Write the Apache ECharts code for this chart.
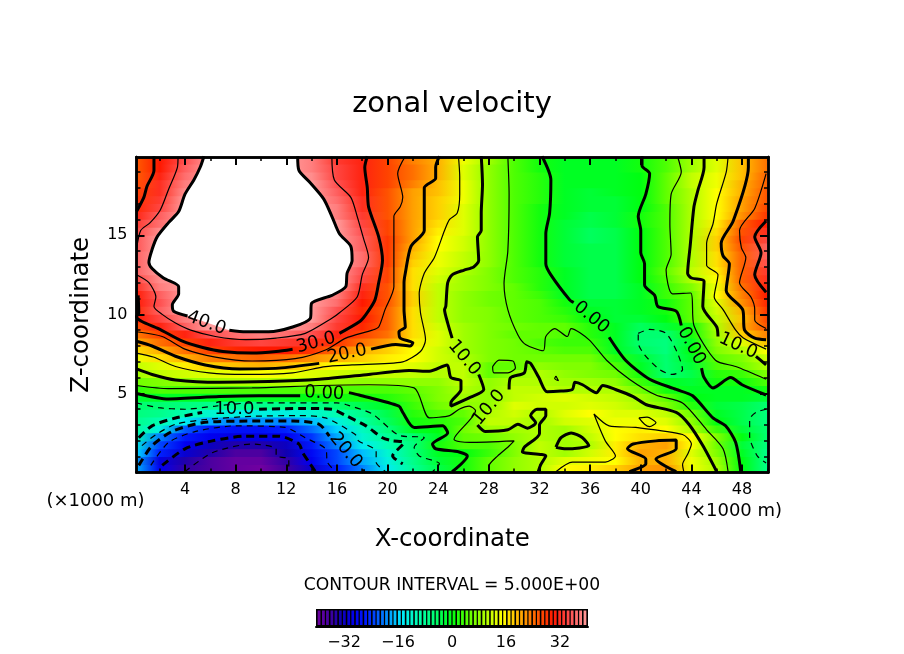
<!DOCTYPE html>
<html><head><meta charset="utf-8">
<style>html,body{margin:0;padding:0;background:#fff}#c{width:904px;height:654px}</style>
<script src="https://cdn.jsdelivr.net/npm/echarts@6/dist/echarts.min.js"></script>
</head><body><div id="c"></div>
<script>
const xCols=[0,2,4,6,8,10,12,14,16,18,20,22,24,26,28,30,32,34,36,38,40,42,44,46,48,50];
const zRows=[.25,.75,1.25,1.75,2.25,2.75,3.25,3.75,4.25,4.75,5.25,5.75,6.25,6.75,7.25,7.75,8.25,8.75,9.25,9.75,10.25,10.75,11.25,11.75,12.25,12.75,13.25,13.75,14.25,14.75,15.25,15.75,16.25,16.75,17.25,17.75,18.25,18.75,19.25,19.75];
const fieldRows=[
[-17,-29,-35,-37,-39,-40,-36,-31,-25,-20,-14,-8,-3,1,5,8,10,15,16,18,21,22,14,10,0,-7],
[-18,-30,-34,-37,-39,-39,-35,-29,-23,-18,-13,-7,-2,1,5,8,10,13,14,15,20,20,14,9,0,-7],
[-15,-25,-31,-34,-37,-37,-33,-28,-23,-17,-12,-6,-1,0,3,7,11,9,12,16,21,20,13,7,-1,-7],
[-13,-23,-29,-32,-34,-34,-32,-26,-20,-14,-10,-6,1,4,4,7,11,9,10,16,20,21,15,6,-2,-6],
[-10,-20,-26,-29,-30,-30,-29,-24,-18,-12,-8,-5,-1,5,6,8,10,9,11,15,17,18,15,7,0,-5],
[-8,-13,-22,-26,-27,-27,-25,-21,-16,-11,-6,-1,0,6,9,9,10,9,12,15,16,15,10,3,-2,-5],
[-7,-10,-14,-18,-20,-19,-20,-17,-13,-9,-4,1,2,4,11,11,9,12,13,14,14,13,8,0,-3,-6],
[-6,-7,-10,-12,-13,-13,-13,-12,-10,-7,-3,2,4,5,10,12,10,13,15,13,13,11,6,-1,-3,-6],
[-5,-5,-6,-7,-8,-7,-7,-7,-5,-3,-1,3,6,8,8,13,12,12,13,12,10,7,2,-2,-3,-5],
[-2,-1,-1,-1,-1,-1,-1,0,1,1,2,4,7,9,8,11,12,13,12,11,9,5,0,-1,-1,-2],
[2,4,4,4,4,4,4,4,4,4,4,5,7,10,8,11,11,10,10,10,6,1,-1,-1,-1,1],
[6,7,8,9,10,10,10,9,9,8,8,8,8,11,8,10,10,9,9,8,3,-1,-2,1,1,4],
[9,11,12,13,14,15,14,13,12,11,11,11,10,11,5,8,10,8,7,6,1,-5,-3,2,3,7],
[11,13,16,18,19,20,19,17,15,14,14,13,11,11,5,5,8,7,7,4,-1,-5,-2,4,6,10],
[14,17,20,23,24,25,24,22,20,18,16,15,12,10,7,6,6,6,6,2,-2,-5,-1,5,7,12],
[17,20,24,27,29,30,30,28,24,20,18,15,12,9,7,6,5,4,4,-1,-4,-6,0,7,10,15],
[20,24,27,31,33,34,33,32,28,24,21,16,13,9,7,6,4,3,3,-1,-5,-6,-1,8,13,19],
[23,27,31,35,37,38,37,35,31,27,24,17,13,9,7,5,5,4,2,-1,-5,-5,1,9,18,23],
[26,31,36,40,42,42,41,38,33,29,25,17,12,9,7,6,5,5,2,-1,-4,-2,1,10,20,26],
[30,34,38,43,45,45,45,41,34,30,25,17,11,8,7,5,4,3,0,-2,-2,0,5,11,19,27],
[29,36,42,45,45,45,45,40,35,29,25,17,11,8,7,5,4,2,-1,-2,-1,1,5,12,20,28],
[30,35,45,45,45,45,45,41,37,30,26,18,11,8,6,5,4,1,-2,-2,-1,1,5,13,22,29],
[30,36,43,45,45,45,45,43,38,31,26,18,11,8,6,5,3,-1,-3,-3,-1,3,5,15,23,30],
[32,38,43,45,45,45,45,45,40,32,26,17,11,9,7,5,2,-1,-3,-3,-1,3,7,14,24,31],
[34,39,45,45,45,45,45,45,42,34,27,17,12,9,7,4,2,-1,-3,-3,0,4,10,15,25,32],
[36,42,45,45,45,45,45,45,42,35,27,17,13,10,7,4,2,-1,-3,-3,0,5,11,16,25,33],
[36,43,45,45,45,45,45,45,45,37,28,18,14,11,8,4,1,-2,-3,-3,0,4,10,17,25,35],
[36,44,45,45,45,45,45,45,45,37,28,19,14,11,8,4,1,-2,-3,-3,0,4,10,17,25,36],
[35,42,45,45,45,45,45,45,45,36,28,20,15,12,8,4,1,-2,-3,-3,0,4,10,18,26,36],
[35,40,45,45,45,45,45,45,44,36,28,21,15,12,8,4,1,-2,-4,-3,0,4,10,18,27,34],
[34,39,44,45,45,45,45,45,41,35,27,21,16,13,8,4,1,-2,-4,-3,0,4,10,17,26,32],
[33,37,43,45,45,45,45,45,40,34,27,21,17,13,8,4,1,-2,-3,-2,1,4,10,16,25,30],
[31,36,42,45,45,45,45,45,38,33,26,21,18,13,8,4,1,-1,-3,-2,1,4,10,15,22,28],
[29,34,41,45,45,45,45,44,38,32,26,21,18,13,8,4,1,-1,-2,-2,0,4,10,15,21,27],
[28,33,40,45,45,45,45,43,37,32,26,21,18,14,8,4,2,-1,-2,-2,0,5,10,15,21,26],
[27,32,39,45,45,45,45,41,36,31,26,21,19,14,8,4,2,-1,-2,-1,0,5,10,15,20,26],
[26,32,38,45,45,45,45,40,35,31,27,23,19,14,8,4,2,-1,-1,-1,0,5,11,14,20,25],
[25,31,37,45,45,45,45,39,34,31,27,24,20,13,8,4,2,-1,-1,-1,0,5,11,14,19,25],
[25,30,36,45,45,45,45,38,34,31,27,24,20,13,8,4,1,-1,-1,-1,1,4,9,13,19,24],
[25,30,35,41,45,45,45,38,33,31,27,23,20,14,9,4,1,-1,-1,-1,1,4,9,13,19,24]];

// contour polylines [x km, z km]
const c40a=[[5.5,20],[5.2,19.3],[4.7,18.5],[4,17.6],[3.5,16.5],[2.7,15.8],[1.8,14.9],[1.4,14.1],[1.15,13.3],[1.4,12.9],[2.3,12.3],[3.5,11.75],[3.5,11.3],[3,10.6],[3.1,10.2],[4.2,9.9]];
const c40b=[[7.5,9],[8.8,8.9],[10.6,8.9],[12.5,9.2],[13.9,9.75],[14,10.7],[15.6,11.2],[16.7,11.75],[16.8,12.6],[17.2,13.4],[17.1,14.3],[16.2,15.1],[15.6,16.2],[14.95,17.3],[13.8,18.4],[13,19.1],[12.9,20]];
const c35a=[[3.45,20],[3.4,19.3],[2.7,17.9],[2.05,16.6],[1.25,15.8],[.5,15.3],[.17,14.1]];
const c35b=[[.17,12.5],[1.15,12],[1.7,11.1],[1.55,10.5],[2.2,10],[3.25,9.45],[4.45,9],[6.4,8.6],[8.8,8.4],[11.2,8.5],[13.5,8.8],[15.6,9.75],[16.2,10.1],[17.6,11.1],[18,12.5],[18.5,13.6],[18.1,14.8],[17.6,16.2],[17.1,17.4],[15.8,18.5],[15.6,20]];
const c30a=[[1.55,20],[1.55,19.1],[1,18.1],[.75,17.4],[.17,16.5]];
const c30b=[[.3,11.2],[.35,10.1],[.17,9.85],[.6,9.55],[1.9,9.1],[3.8,8.3],[5.4,7.9],[7,7.65],[9.3,7.55],[11.2,7.65],[12.5,7.8]];
const c30c=[[16.2,8.8],[17.8,9.55],[18.3,10],[19,10.9],[19.3,12],[19.6,13.4],[19.3,14.9],[18.5,16.8],[18.4,18],[18.2,19.3],[18.4,20]];
const c30d=[[49.9,15.9],[49,14.9],[49.5,13.9],[49,12.5],[49.9,11.4]];
const c25a=[[.17,8.9],[2.2,8.6],[4,7.8],[6.4,7.3],[9.3,7.05],[12.7,7.2],[15.1,7.75],[16.7,8.5],[18.8,9],[19.3,9.2],[19.8,10.3],[20.5,11.75],[20.5,13.2],[20.5,16.2],[21,16.8],[21.2,17.4],[20.8,18.9],[21.4,20]];
const c25b=[[49.9,18.9],[49,16.7],[47.8,15.3],[47.95,14.2],[48.3,13.6],[47.8,12],[48.7,11.1],[49,10.3],[49,9.65],[49.9,9.1]];
const c20a=[[.17,8.3],[1.4,8],[3.25,7.35],[5.6,6.8],[8.3,6.55],[11.4,6.6],[14.6,6.9]];
const c20b=[[18.7,7.8],[20.65,8.1],[21.8,8],[22,8.2],[21,8.5],[20.9,8.9],[21.4,9.2],[21.3,10.3],[21.3,12],[21.4,12.6],[21.85,14.3],[22.9,15.3],[22.9,18],[23.8,18.6],[23.8,19.3],[24.1,20]];
const c20c=[[48.5,20],[48.5,19.3],[47.3,15.9],[46.35,14.5],[46.5,13.7],[47,13.2],[46.75,11.5],[48.05,10.3],[48.2,9],[49,8.5],[49.9,8.4]];
const c20d=[[39.1,.05],[40.4,.55],[40.4,.85],[38.95,1.5],[39.4,1.8],[41.2,2],[42.8,2.05],[42.8,1.5],[41.2,.85],[42.8,.05]];
const c15a=[[.17,7.55],[1.5,7.3],[3.25,6.7],[5.9,6.3],[8.8,6.2],[12.5,6.3],[15.1,6.7],[17.2,6.8],[21.2,7],[22.6,7.65],[23,8.4],[22.6,10.1],[22.5,11.3],[22.9,12.6],[23.7,13.6],[24.5,15.3],[24.9,16],[25.5,16.4],[25.7,17.6],[25.7,18.7],[25.6,20]];
const c15b=[[46.9,20],[46.75,19],[46,17],[45.7,15.7],[45.2,14.5],[45.2,13.1],[46.1,12.5],[45.8,11.1],[46.5,10.3],[47.5,9],[48.1,8.5],[49.9,7.8]];
const c15c=[[33.3,.05],[34.6,.65],[37.2,.65],[38,1.05],[37.2,2],[36.3,3.7],[37.5,2.95],[39.6,2.85],[43.3,2.4],[44,1.8],[43.7,1.15],[43.3,.5],[43.4,.05]];
const c15d=[[39.85,3.45],[40.5,3.5],[41.2,3.15],[40.7,2.9],[40.3,3.05],[39.85,3.45]];
const c10a=[[.17,6.55],[1.4,6.2],[3.25,5.85],[6.7,5.7],[10.6,5.75],[14.6,5.9],[18.5,6.2],[21.7,6.45],[23.3,6.4],[24.7,6.8],[25,6],[25.8,5.8],[25.8,5.25],[25,4.4],[25,4.2],[26.4,4.7],[27.6,5.25],[27.2,6.2]];
const c10b=[[25.1,8.5],[24.75,9.45],[24.5,10.3],[24.6,10.5],[24.75,12],[25.1,12.5],[26.05,12.8],[26.8,13],[27.2,13.4],[27.1,14.9],[27.4,15.3],[27.4,16.4],[27.5,18.2],[27.4,20]];
const c10c=[[31.9,.05],[32.1,.5],[32.5,1.05],[30.65,1.3],[30.8,1.6],[32,2.45],[32,3],[32.5,3.6],[32.5,4],[31.8,4],[31.3,3.6],[31.7,3.15],[31.05,2.8],[30.3,3.05],[29.5,2.7],[27.7,2.6],[27.1,3]];
const c10d=[[29.6,5.25],[29.7,5.98],[30.8,6.3],[31,7],[31.3,6.9],[31.95,6],[32.6,5.1],[33.7,5.15],[34.6,5.25],[34.8,5.7],[35.4,5.55],[36.5,5.05],[37,5.5],[38,5.25],[39.4,4.8],[40.4,4.3],[42.8,3.8],[43.8,3.05],[44.9,1.7],[46,.05]];
const c10e=[[33.3,1.6],[33.7,2.2],[34.5,2.5],[35.4,2.2],[35.9,1.7],[34.1,1.5],[33.3,1.6]];
const c10f=[[45,20],[45,19.3],[44.5,17.8],[44.2,16.8],[43.9,14.3],[43.7,12.6],[44,12.3],[45,12.1],[44.9,10.5],[46,9.2],[46.1,8.6]];
const c10g=[[49.1,7.35],[49.9,6.8]];
const c5a=[[.17,5.5],[2.7,5.3],[9.3,5.35],[14.6,5.5],[18.5,5.55],[22.1,5.35],[23.3,3.45],[24.9,3.6],[25.65,4],[26.45,4.2],[26.95,3.9],[25.25,2.1],[26.45,1.9],[30,2],[29.5,1.6],[28.7,1.05],[28,.4],[28,.05]];
const c5b=[[29.5,20],[29.6,17.6],[29.5,14],[29.2,11.95],[29.5,10.3],[30.3,8.7],[30.9,8.1],[32.3,7.7],[32.5,8.6],[33.2,9.1],[34.2,8.6],[34.5,9.1],[35.9,8.4],[37.3,7.1],[39.1,5.9],[41.2,4.9],[43.3,4.4],[45.2,2.7],[46.5,1.5],[46.9,.05]];
const c5c=[[28.3,6.7],[28.8,7.1],[29.9,7.05],[30.1,6.6],[29.5,6.3],[28.4,6.3],[28.3,6.7]];
const c5d=[[33.3,6.1],[33.5,5.8],[33.2,5.95],[33.3,6.1]];
const c5e=[[42.9,20],[43.2,19],[42.4,17.6],[42.3,15.7],[42.4,13.8],[42,12.8],[42.5,11.3],[43.95,11.35],[44.2,9.3],[45.9,7.1],[47.5,6.7],[49.9,5.9]];
const c0a=[[.17,5],[2.7,4.65],[6.7,4.8],[9.85,4.85],[13.1,4.85]];
const c0b=[[16.95,5.05],[17.75,4.9],[20.9,4.2],[21.2,3.8],[22.1,2.85],[24.35,2.95],[24.75,2.5],[23.55,1.8],[23.8,1.5],[25.65,1.3],[26.3,1.05],[25.1,.05]];
const c0c=[[32.2,20],[32.9,18.5],[32.8,16.4],[32.5,15.1],[32.5,13.2],[32.9,12.5],[34.4,10.9],[34.7,10.75]];
const c0d=[[37.5,8.55],[38.8,7.1],[40.7,5.9],[42.8,5.25],[44.1,4.85],[45.7,3.45],[46.7,2.95],[47.5,1.9],[47.9,.05]];
const c0e=[[40.1,20],[40.1,19.4],[40.7,18.9],[40.4,17.6],[39.8,16.2],[40,15.3],[40,13.9],[40.3,13.2],[40.3,11.85],[41.1,11.2],[41.35,10.5],[42.8,10.2],[43.2,9.3]];
const c0f=[[44.8,6.6],[45,6],[45.7,5.35],[47.1,6],[48,5.55],[49.9,4.9]];
const cm5a=[[.17,4.4],[1.9,4.1],[4,4],[6.4,4.2],[9.3,4.4],[13,4.4],[16,4.4],[16.7,4.3],[18.8,3.7],[20.9,2.35],[22.9,2.2],[22.1,1.6],[22.5,1.05],[24.1,.55],[23.55,.05]];
const cm5b=[[39.8,8.8],[40.7,9.05],[42,8.8],[42.9,7.55],[43.3,6.5],[42.5,6.2],[41.5,6.5],[40.3,7.45],[39.8,8.2],[39.8,8.8]];
const cm5c=[[49.9,4],[49.1,3.8],[48.6,3.35],[48.6,2.3],[49.2,1.05],[49.9,.6]];
const cm10a=[[.35,2.2],[1.4,2.95],[3.25,3.45],[5.35,3.8]];
const cm10b=[[9.85,4],[13,4.05],[15.6,4],[16.7,3.6],[18.3,2.95],[19.6,2.2],[20.4,2],[21.3,1.9],[20.4,1.05],[21.2,.55]];
const cm15=[[.6,1.7],[1.7,2.4],[3.25,3.05],[5.6,3.35],[9.3,3.55],[13,3.6],[15.1,3.45],[17.45,2.4],[17.7,2],[19.1,1.35],[19.1,.65],[19.85,.05]];
const cm20a=[[.35,.45],[1.4,1.7],[3,2.6],[5.35,3.15],[9.3,3.25],[12.5,3.25],[14.6,3.05],[15.4,2.3]];
const cm20b=[[18.1,.2],[18.1,.05]];
const cm25=[[1.3,.45],[2.7,1.9],[4.85,2.6],[8,2.95],[11.9,2.85],[13.5,2.2],[15.1,1.5],[15.25,.65],[15.9,.05]];
const cm30=[[2.2,.45],[4,1.5],[6.15,2],[8.8,2.3],[11.4,2.3],[13,1.8],[13.3,1.25],[13.8,.65],[14.3,.05]];
const cm35=[[4,.05],[6.15,1.25],[9.3,1.8],[11.2,1.5],[11.2,1.05],[12.2,.85],[12.2,.05]];

const heavyLines=[c40a,c40b,c30a,c30b,c30c,c30d,c20a,c20b,c20c,c20d,c10a,c10b,c10c,c10d,c10e,c10f,c10g,c0a,c0b,c0c,c0d,c0e,c0f];
const thinLines=[c35a,c35b,c25a,c25b,c15a,c15b,c15c,c15d,c5a,c5b,c5c,c5d,c5e];
const heavyDashed=[cm10a,cm10b,cm20a,cm20b,cm30];
const thinDashed=[cm5a,cm5b,cm5c,cm15,cm25,cm35];

const labelTexts=['40.0','30.0','20.0','10.0','0.00','20.0','10.0','10.0','0.00','0.00','10.0'];
const labelX=[5.7,14.35,16.8,7.9,15,16.7,26.05,28,36.1,44,47.7];
const labelZ=[9.45,8.2,7.5,4,5,1.4,7.25,4.1,9.8,8,8];
const labelRot=[-20,15,12,0,-3,-50,-50,50,-40,-62,-25];

const xMajor=[4,8,12,16,20,24,28,32,36,40,44,48];
const xMinor=[2,6,10,14,18,22,26,30,34,38,42,46,50];
const zMajor=[5,10,15];
const zMinor=[1,2,3,4,6,7,8,9,11,12,13,14,16,17,18,19];
const barTicks=[-32,-16,0,16,32];
const barLevels=[-39.4,-38.1,-36.9,-35.6,-34.4,-33.1,-31.9,-30.6,-29.4,-28.1,-26.9,-25.6,-24.4,-23.1,-21.9,-20.6,-19.4,-18.1,-16.9,-15.6,-14.4,-13.1,-11.9,-10.6,-9.4,-8.1,-6.9,-5.6,-4.4,-3.1,-1.9,-.6,.6,1.9,3.1,4.4,5.6,6.9,8.1,9.4,10.6,11.9,13.1,14.4,15.6,16.9,18.1,19.4,20.6,21.9,23.1,24.4,25.6,26.9,28.1,29.4,30.6,31.9,33.1,34.4,35.6,36.9,38.1,39.4];
const colorStops=[[-40,[112,0,160]],[-36,[64,0,160]],[-33,[16,0,176]],[-29,[0,0,240]],[-25,[0,32,255]],[-20,[0,128,255]],[-15,[0,232,255]],[-10,[0,255,176]],[-5,[0,255,112]],[0,[0,255,16]],[5,[96,255,0]],[10,[176,255,0]],[15,[255,255,0]],[20,[255,176,0]],[25,[255,96,0]],[30,[255,24,0]],[35,[255,80,80]],[40,[255,156,156]]];

function colorOf(v){
  v=Math.max(-40,Math.min(40,v));
  for(let i=1;i<colorStops.length;i++){
    if(v<=colorStops[i][0]){
      const a=colorStops[i-1],b=colorStops[i],t=(v-a[0])/(b[0]-a[0]);
      return 'rgb('+a[1].map((c,k)=>Math.round(c+(b[1][k]-c)*t)).join(',')+')';
    }
  }
  return 'rgb(255,156,156)';
}
const F='"DejaVu Sans"';
const X0=.17,X1=50.05,Z1=19.95;
const box=2.5;
function axisBase(type,pos,min,max,grid){return {type:'value',gridIndex:grid,position:pos,min,max,z:10,silent:true,scale:false,
  splitLine:{show:false},axisLine:{show:true,onZero:false,lineStyle:{color:'#000',width:box}}};}
function mk(type,pos,min,max,ticks,len,label){
  const a=axisBase(type,pos,min,max,0);
  a.axisTick={show:true,inside:true,length:len,lineStyle:{color:'#000',width:len>5?2:1.5},customValues:ticks};
  a.axisLabel=label?{show:true,customValues:ticks,color:'#000',fontFamily:F,fontSize:16,margin:9}:{show:false};
  return a;
}
const xAxes=[mk('x','bottom',X0,X1,xMajor,8,true),mk('x','bottom',X0,X1,xMinor,4,false),mk('x','top',X0,X1,xMajor,8,false),mk('x','top',X0,X1,xMinor,4,false),
 Object.assign(axisBase('x','bottom',-40.3,40.3,1),{axisLine:{show:true,onZero:false,lineStyle:{color:'#000',width:2}},axisTick:{show:false},axisLabel:{show:true,customValues:barTicks,color:'#000',fontFamily:F,fontSize:16,margin:8,formatter:v=>String(v).replace('-','\u2212')}})];
xAxes[0].name='X-coordinate';xAxes[0].nameLocation='middle';xAxes[0].nameGap=55;xAxes[0].nameTextStyle={color:'#000',fontFamily:F,fontSize:24.5};
const yAxes=[mk('y','left',0,Z1,zMajor,8,true),mk('y','left',0,Z1,zMinor,4,false),mk('y','right',0,Z1,zMajor,8,false),mk('y','right',0,Z1,zMinor,4,false),
 Object.assign(axisBase('y','left',0,1,1),{axisLine:{show:false},axisTick:{show:false},axisLabel:{show:false}})];
yAxes[0].name='Z-coordinate';yAxes[0].nameLocation='middle';yAxes[0].nameGap=42;yAxes[0].nameRotate=90;yAxes[0].nameTextStyle={color:'#000',fontFamily:F,fontSize:24.5};

const zEdges=[0];for(let i=0;i<zRows.length-1;i++)zEdges.push((zRows[i]+zRows[i+1])/2);zEdges.push(20);

const fieldSeries={type:'custom',silent:true,clip:true,z:1,xAxisIndex:0,yAxisIndex:0,
  data:zRows.map((z,i)=>[0,z,i]),encode:{x:0,y:1},
  renderItem(p,api){
    const i=api.value(2),a=api.coord([xCols[0],zEdges[i+1]]),b=api.coord([xCols[xCols.length-1],zEdges[i]]);
    const stops=fieldRows[i].map((v,k)=>({offset:xCols[k]/50,color:colorOf(v)}));
    return {type:'rect',shape:{x:a[0],y:a[1]-.4,width:b[0]-a[0],height:b[1]-a[1]+.8},
      style:{fill:new echarts.graphic.LinearGradient(0,0,1,0,stops)}};
  }};
const whiteSeries={type:'custom',silent:true,clip:true,z:2,xAxisIndex:0,yAxisIndex:0,
  data:[[5,15]],encode:{x:0,y:1},
  renderItem(p,api){return {type:'polygon',shape:{points:c40a.concat(c40b).map(q=>api.coord(q))},style:{fill:'#fff'}};}};
function lines(list,width,dash){return list.map(d=>({type:'line',data:d,symbol:'none',silent:true,z:3,clip:true,xAxisIndex:0,yAxisIndex:0,
  smooth:.25,lineStyle:{color:'#000',width,type:dash||'solid',cap:'butt'},emphasis:{disabled:true}}));}
const labelSeries={type:'scatter',silent:true,z:4,symbolSize:0,xAxisIndex:0,yAxisIndex:0,clip:false,itemStyle:{opacity:1},
  data:labelTexts.map((t,i)=>({value:[labelX[i],labelZ[i]],label:{show:true,formatter:t,rotate:labelRot[i],position:'inside',align:'center',verticalAlign:'middle',color:'#000',opacity:1,fontFamily:F,fontSize:18}}))};
const barSeries={type:'custom',silent:true,z:3,xAxisIndex:4,yAxisIndex:4,
  data:barLevels.map(v=>[v,.5]),encode:{x:0,y:1},
  renderItem(p,api){
    const v=api.value(0),c=api.coord([v,1]),d=api.coord([v,0]);
    return {type:'rect',shape:{x:c[0]-1.4,y:c[1]+1.5,width:2.8,height:d[1]-c[1]-3},style:{fill:colorOf(v)}};
  }};
const T=(text,x,y,size,align,rot)=>({type:'text',x,y,rotation:rot||0,silent:true,style:{text,fill:'#000',font:size+'px '+F,textAlign:align||'center',textVerticalAlign:'middle'}});

const chart=echarts.init(document.getElementById('c'),null,{renderer:'canvas'});
chart.setOption({
  animation:false,backgroundColor:'#fff',
  grid:[{left:136.5,top:157,width:631.5,height:315.5,containLabel:false},
        {left:316,top:609,width:272,height:17.5,show:true,backgroundColor:'#000',borderWidth:0}],
  xAxis:xAxes,yAxis:yAxes,
  series:[fieldSeries,whiteSeries,...lines(heavyLines,3),...lines(thinLines,1.2),...lines(heavyDashed,3,[8,5]),...lines(thinDashed,1.2,[6,5]),labelSeries,barSeries],
  graphic:[T('zonal velocity',452,104,29),T('(\u00d71000 m)',95.5,501,18),T('(\u00d71000 m)',733,511,18),T('CONTOUR INTERVAL = 5.000E+00',452,586,17.2)]
});
</script></body></html>
